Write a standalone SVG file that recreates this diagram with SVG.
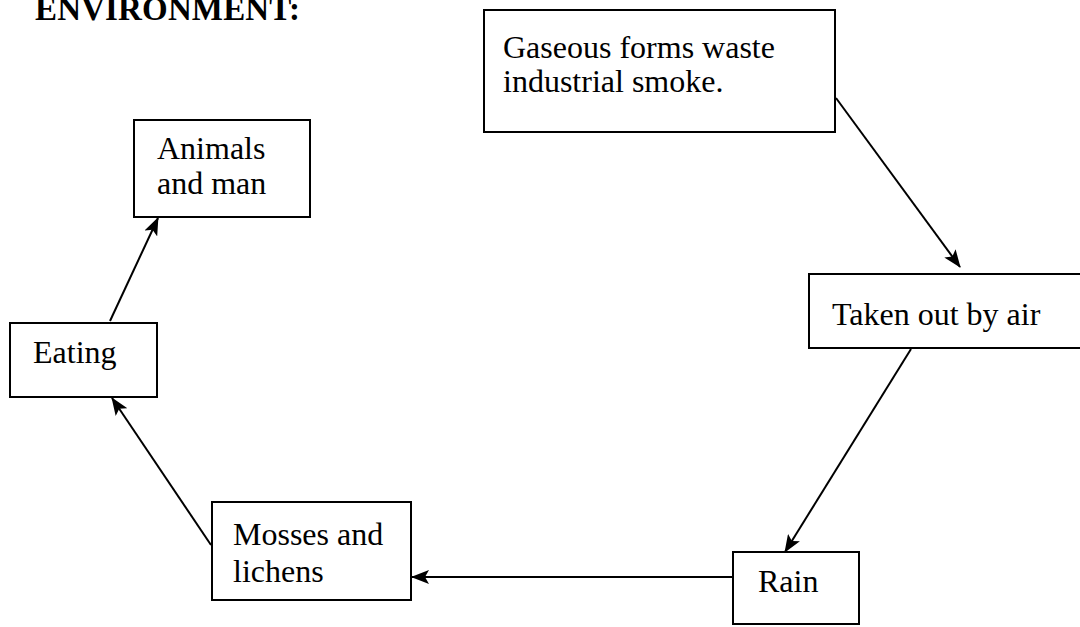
<svg xmlns="http://www.w3.org/2000/svg" width="1080" height="627" viewBox="0 0 1080 627">
<style>
.box{fill:#fff;stroke:#000;stroke-width:2}
.t{font-family:"Liberation Serif","Times New Roman",serif;font-size:32px;fill:#000}
.title{font-family:"Liberation Serif","Times New Roman",serif;font-size:33px;font-weight:bold;fill:#000}
.c{stroke:#000;stroke-width:2;fill:none;marker-end:url(#ah)}
</style>
<defs>
<marker id="ah" viewBox="0 0 18 14" refX="17" refY="7" markerWidth="18" markerHeight="14" markerUnits="userSpaceOnUse" orient="auto">
<path d="M0,0 L18,7 L0,14 L4,7 Z" fill="#000"/>
</marker>
</defs>
<rect width="1080" height="627" fill="#fff"/>
<text class="title" x="35" y="20" textLength="265">ENVIRONMENT:</text>
<g id="connectors">
<line class="c" x1="836" y1="98" x2="960" y2="267"/>
<line class="c" x1="911" y1="349" x2="785" y2="552"/>
<line class="c" x1="733" y1="577" x2="412" y2="577"/>
<line class="c" x1="211" y1="545" x2="112" y2="398"/>
<line class="c" x1="110" y1="321" x2="158" y2="218"/>
</g>
<g id="gaseous">
<rect class="box" x="484" y="10" width="351" height="122"/>
<text class="t" x="503" y="58">Gaseous forms waste</text>
<text class="t" x="503" y="92">industrial smoke.</text>
</g>
<g id="taken">
<rect class="box" x="809" y="274" width="290" height="74"/>
<text class="t" x="832" y="325">Taken out by air</text>
</g>
<g id="rain">
<rect class="box" x="733" y="552" width="126" height="72"/>
<text class="t" x="758" y="592">Rain</text>
</g>
<g id="mosses">
<rect class="box" x="212" y="502" width="199" height="98"/>
<text class="t" x="233" y="545">Mosses and</text>
<text class="t" x="233" y="582">lichens</text>
</g>
<g id="eating">
<rect class="box" x="10" y="323" width="147" height="74"/>
<text class="t" x="33" y="363">Eating</text>
</g>
<g id="animals">
<rect class="box" x="134" y="120" width="176" height="97"/>
<text class="t" x="157" y="159">Animals</text>
<text class="t" x="157" y="194">and man</text>
</g>
</svg>
